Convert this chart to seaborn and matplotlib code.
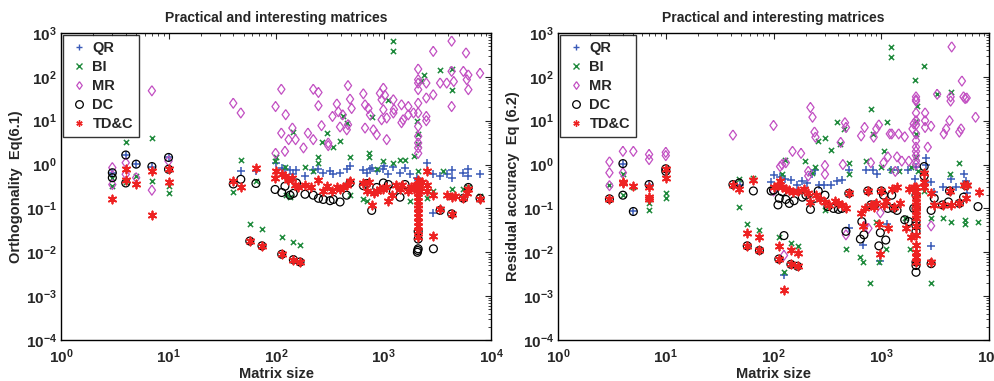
import matplotlib
matplotlib.use('Agg')
import matplotlib.pyplot as plt
import seaborn as sns
import pandas as pd
from matplotlib.lines import Line2D
from matplotlib.ticker import LogLocator, NullFormatter

# ---- left panel: orthogonality Eq(6.1) ----
qr_n_1 = [3, 4, 5, 7, 10, 47, 65, 100, 113, 121, 135, 145, 155, 186, 222, 248, 275, 318, 341, 394,
          454, 488, 649, 697, 750, 776, 864, 996, 1000, 1109, 1234, 1423, 1585, 1765, 2065, 2100,
          2523, 2911, 2911, 3357, 3872, 4305, 4305, 5530, 6150, 6150, 7900]
qr_v_1 = [0.65, 1.65, 1.02, 0.9, 1.45, 0.72, 0.70, 1.1, 0.85, 0.8, 0.75, 0.6, 0.75, 0.55, 0.75, 0.8, 0.65,
          0.7, 0.6, 0.65, 0.8, 0.95, 0.75, 0.65, 0.8, 0.85, 0.7, 0.8, 0.95, 0.6, 0.9, 0.65, 0.85, 0.6,
          0.5, 0.45, 1.1, 0.6, 0.08, 0.55, 0.6, 0.75, 0.5, 0.65, 0.55, 0.8, 0.6]

bi_n_1 = [3, 3, 4, 4, 5, 7, 7, 10, 10, 40, 47, 65, 57, 74, 113, 145, 167, 98, 100, 121, 125, 135, 145,
          186, 222, 248, 248, 265, 300, 341, 394, 420, 454, 488, 488, 649, 697, 740, 740, 776, 864,
          996, 1109, 1234, 1234, 1234, 1423, 1585, 1765, 1900, 2065, 2100, 2100, 2100, 2250, 2400,
          2523, 2911, 3357, 3600, 4305, 4305, 4305, 5530, 6150, 7900]
bi_v_1 = [0.5, 0.33, 3.3, 0.4, 0.55, 4.0, 0.43, 0.32, 0.23, 0.24, 1.3, 0.42, 0.044, 0.034, 0.022,
          0.017, 0.015, 1.2, 1.5, 0.9, 0.2, 0.18, 5.5, 0.9, 0.7, 1.5, 1.1, 3.2, 5.2, 2.5, 3.5, 13, 9,
          1.5, 0.2, 0.16, 0.15, 1.8, 1.5, 12, 0.8, 1.2, 30, 650, 380, 1.1, 1.3, 1.3, 0.15, 1.6, 10,
          5, 3, 0.7, 80, 110, 0.17, 0.25, 140, 0.7, 150, 50, 0.28, 0.28, 0.3, 0.19]

mr_n_1 = [3, 3, 4, 4, 5, 7, 7, 10, 40, 47, 99, 112, 99, 112, 123, 121, 131, 142, 152, 180, 198, 222,
          248, 222, 248, 265, 306, 306, 335, 368, 380, 394, 417, 467, 488, 505, 455, 467, 649, 673,
          723, 748, 673, 805, 864, 926, 960, 996, 1030, 996, 960, 1070, 1070, 1234, 1250, 1234, 1470,
          1470, 1520, 1700, 1700, 1900, 2100, 2100, 2100, 2100, 2100, 2100, 2100, 2100, 2100, 2100,
          2100, 2500, 2500, 2500, 2500, 2900, 2900, 3360, 3870, 4300, 4300, 4300, 4500, 5530, 5850,
          5950, 6150, 6150, 7900]
mr_v_1 = [0.85, 0.35, 1.1, 0.6, 0.5, 48, 0.26, 1.2, 25, 15, 1.8, 52, 21, 5.2, 13.7, 2.0, 3.7, 6.8, 3.7,
          2.4, 5.2, 52, 44, 3.7, 22, 7.7, 3.1, 2.7, 12.5, 24, 16, 7.2, 13.6, 63, 31, 19, 6.2, 8.1, 41,
          23, 19, 13.6, 6.8, 6.2, 4.8, 42, 30, 55, 38, 17.8, 10.5, 11.5, 3.7, 30, 18, 15, 23, 9, 10.5,
          21, 13.6, 15, 150, 86, 72, 51, 25, 15, 7.4, 4.4, 3.1, 2.4, 1.8, 72, 33, 12.5, 10, 380, 39,
          72, 72, 650, 133, 21, 78, 133, 350, 86, 51, 110, 120]

dc_n_1 = [3, 3, 4, 4, 5, 7, 10, 10, 40, 47, 65, 57, 74, 113, 145, 167, 98, 113, 121, 135, 145, 155,
          186, 222, 248, 275, 318, 341, 394, 454, 488, 649, 697, 776, 864, 996, 1109, 1234, 1423,
          1585, 2065, 2080, 2100, 2100, 2100, 2100, 2911, 3357, 4305, 5530, 6150, 7900]
dc_v_1 = [0.65, 0.5, 1.65, 0.38, 1.02, 0.9, 1.45, 0.78, 0.36, 0.46, 0.37, 0.018, 0.014, 0.009, 0.0068,
          0.006, 0.27, 0.23, 0.32, 0.2, 0.22, 0.38, 0.21, 0.2, 0.17, 0.16, 0.15, 0.16, 0.14, 0.2,
          0.38, 0.33, 0.37, 0.09, 0.3, 0.38, 0.35, 0.25, 0.18, 0.35, 0.01, 0.011, 0.012, 0.02, 0.03,
          0.3, 0.012, 0.09, 0.075, 0.17, 0.3, 0.17]

td_n_1 = [3, 4, 4, 5, 7, 7, 10, 10, 40, 47, 65, 57, 74, 113, 145, 167, 98, 100, 113, 121, 130, 140,
          150, 160, 186, 210, 248, 275, 300, 330, 370, 394, 420, 454, 488, 650, 700, 730, 776, 820,
          864, 930, 996, 1050, 1109, 1200, 1300, 1423, 1500, 1700, 1800, 1900, 2000, 2100, 2100,
          2100, 2100, 2100, 2100, 2100, 2100, 2100, 2100, 2100, 2100, 2100, 2100, 2150, 2200, 2300,
          2523, 2523, 2523, 2911, 2911, 3357, 3872, 4305, 4305, 4600, 5530, 6000, 6150, 7900]
td_v_1 = [0.16, 0.8, 0.44, 0.36, 0.72, 0.07, 0.78, 0.4, 0.42, 0.3, 0.85, 0.018, 0.014, 0.009, 0.0068,
          0.006, 0.5, 0.7, 0.6, 0.55, 0.45, 0.5, 0.35, 0.3, 0.35, 0.3, 0.45, 0.25, 0.32, 0.25, 0.3,
          0.28, 0.3, 0.35, 0.42, 0.38, 0.25, 0.4, 0.12, 0.22, 0.25, 0.28, 0.27, 0.3, 0.15, 0.2, 0.35,
          0.28, 0.35, 0.25, 0.3, 0.28, 0.35, 0.45, 0.35, 0.28, 0.22, 0.18, 0.15, 0.12, 0.1, 0.08,
          0.065, 0.05, 0.04, 0.03, 0.022, 0.3, 0.25, 0.4, 0.7, 0.35, 0.25, 0.024, 0.2, 0.095, 0.2,
          0.18, 0.075, 0.19, 0.17, 0.22, 0.27, 0.16]

# ---- right panel: residual accuracy Eq (6.2) ----
qr_n_2 = [4, 5, 7, 10, 49, 94, 100, 116, 129, 144, 166, 184, 205, 228, 245, 262, 293, 340, 390, 433,
          500, 125, 500, 670, 720, 830, 920, 980, 1140, 1230, 1420, 1760, 2050, 2100, 2600, 2600, 2900,
          2900, 3100, 3700, 4400, 4900, 5900, 6100, 6300]
qr_v_2 = [1.05, 0.085, 0.35, 0.7, 0.35, 0.39, 0.58, 0.53, 0.46, 0.45, 0.35, 0.42, 0.37, 0.6, 0.75,
          0.35, 0.35, 0.35, 0.42, 0.45, 0.75, 0.003, 0.035, 0.015, 0.75, 0.75, 0.62, 0.0063, 0.045,
          0.75, 0.75, 0.75, 0.46, 0.9, 1.4, 1.0, 0.39, 0.014, 0.24, 0.3, 0.46, 0.3, 0.62, 0.42, 0.22]

bi_n_2 = [3, 4, 4, 5, 7, 7, 10, 10, 48, 48, 57, 65, 74, 113, 120, 125, 128, 145, 167, 195, 226, 245,
          260, 300, 300, 340, 390, 410, 450, 470, 500, 500, 640, 670, 720, 780, 800, 830, 900, 960,
          1000, 1050, 1100, 1120, 1230, 1230, 1230, 1450, 1650, 1850, 1900, 2050, 2100, 2100, 2100,
          2150, 2200, 2500, 2500, 2900, 2900, 3300, 3700, 4400, 4400, 4300, 5300, 6000, 6000, 7900]
bi_v_2 = [0.34, 0.62, 0.2, 0.3, 0.13, 0.09, 0.22, 0.17, 0.48, 0.11, 0.043, 0.5, 0.033, 0.022, 0.6,
          0.0035, 1.3, 0.016, 0.014, 1.2, 0.65, 0.9, 3.5, 4.0, 0.09, 2.2, 9.5, 3.0, 6.5, 0.012, 1.1,
          0.6, 0.008, 0.006, 1.2, 0.002, 18, 5, 0.05, 0.006, 0.9, 2.0, 0.012, 9.5, 480, 280, 0.75,
          0.7, 0.06, 0.012, 0.9, 85, 10, 5, 1.5, 22, 0.7, 180, 0.25, 0.06, 0.002, 40, 0.06, 45, 0.05,
          0.6, 1.1, 0.055, 0.045, 0.05]

mr_n_2 = [3, 3, 3, 4, 4, 5, 7, 7, 10, 10, 42, 100, 100, 115, 120, 130, 150, 180, 125, 210, 210, 220,
          230, 240, 245, 300, 300, 420, 440, 460, 470, 470, 650, 700, 700, 760, 800, 850, 900, 950,
          980, 1050, 1150, 1200, 1250, 1350, 1400, 1450, 1550, 1650, 1800, 1950, 2000, 2100, 2100,
          2100, 2100, 2100, 2100, 2100, 2100, 2100, 2100, 2100, 2100, 2100, 2550, 2550, 2550, 2700,
          2900, 2900, 3300, 3800, 4000, 4300, 4400, 4400, 4500, 5300, 5500, 5600, 5800, 6000, 6200,
          7500]
mr_v_2 = [1.15, 0.65, 0.33, 2.0, 0.65, 2.0, 1.7, 1.3, 1.9, 1.6, 4.7, 7.8, 0.25, 0.9, 1.0, 1.1, 2.0,
          1.8, 0.0085, 0.7, 0.55, 20, 12, 5.5, 4.2, 0.95, 0.6, 3.2, 1.0, 9, 7, 0.025, 4.5, 7, 0.04,
          0.035, 1.1, 4.2, 6.5, 8, 0.08, 1.1, 1.5, 5, 5, 0.7, 1.5, 5, 1.2, 4.3, 1.2, 6.5, 8.5, 35, 30,
          28, 15, 10, 8, 5, 3.5, 2.5, 2, 1.6, 1.2, 1.0, 10, 7, 15, 2.5, 0.04, 7.5, 40, 5, 6.5, 10, 35,
          28, 480, 5.5, 6.5, 80, 35, 32, 33, 12]

dc_n_2 = [3, 4, 4, 5, 7, 10, 10, 42, 48, 65, 57, 74, 112, 145, 167, 95, 100, 110, 113, 120, 125, 130,
          140, 155, 185, 200, 220, 240, 260, 300, 320, 360, 400, 430, 470, 500, 640, 660, 690, 750,
          800, 870, 950, 980, 1000, 1050, 1100, 1150, 1250, 1300, 1400, 1650, 1800, 2000, 2100, 2100,
          2100, 2100, 2100, 2100, 2100, 2100, 2500, 2500, 2900, 2900, 3100, 3700, 4200, 4300, 5300,
          5800, 6100, 7900]
dc_v_2 = [0.165, 1.05, 0.2, 0.085, 0.35, 0.7, 0.8, 0.35, 0.38, 0.25, 0.014, 0.011, 0.007, 0.0053,
          0.0048, 0.25, 0.26, 0.12, 0.17, 0.24, 0.024, 0.16, 0.13, 0.15, 0.18, 0.2, 0.095, 0.17, 0.25,
          0.2, 0.11, 0.1, 0.095, 0.1, 0.03, 0.22, 0.02, 0.05, 0.025, 0.25, 0.12, 0.12, 0.014, 0.028,
          0.25, 0.2, 0.019, 0.1, 0.2, 0.1, 0.09, 0.055, 0.05, 0.1, 0.0035, 0.005, 0.006, 0.03, 0.04,
          0.05, 0.1, 0.2, 0.55, 0.9, 0.0055, 0.09, 0.17, 0.12, 0.14, 0.25, 0.13, 0.18, 0.33, 0.11]

td_n_2 = [3, 4, 4, 5, 7, 7, 7, 10, 10, 42, 48, 65, 57, 57, 74, 74, 112, 112, 125, 145, 145, 167, 167,
          100, 110, 115, 120, 130, 140, 150, 170, 190, 210, 220, 250, 270, 300, 330, 370, 400, 430,
          470, 500, 650, 680, 700, 750, 800, 850, 900, 950, 970, 1000, 1050, 1100, 1150, 1250, 1300,
          1400, 1500, 1700, 1800, 1900, 2000, 2100, 2100, 2100, 2100, 2100, 2100, 2100, 2100, 2100,
          2100, 2100, 2100, 2100, 2100, 2100, 2100, 2500, 2500, 2500, 2900, 2900, 3100, 3700, 4300,
          4400, 5300, 5800, 6100, 6300, 8000]
td_v_2 = [0.165, 0.4, 0.38, 0.33, 0.3, 0.18, 0.16, 0.8, 0.5, 0.35, 0.28, 0.44, 0.014, 0.028, 0.011,
          0.022, 0.007, 0.014, 0.0014, 0.0053, 0.011, 0.0048, 0.0095, 0.3, 0.35, 0.42, 0.3, 0.28,
          0.26, 0.24, 0.25, 0.28, 0.22, 0.14, 0.2, 0.16, 0.14, 0.12, 0.15, 0.13, 0.12, 0.1, 0.22,
          0.08, 0.04, 0.1, 0.25, 0.12, 0.11, 0.13, 0.045, 0.009, 0.25, 0.12, 0.15, 0.035, 0.28, 0.11,
          0.3, 0.13, 0.035, 0.28, 0.022, 0.3, 0.3, 0.25, 0.2, 0.17, 0.14, 0.12, 0.1, 0.085, 0.07,
          0.06, 0.04, 0.025, 0.015, 0.01, 0.008, 0.006, 0.65, 0.4, 0.3, 0.006, 0.22, 0.12, 0.12,
          0.25, 0.12, 0.13, 0.35, 0.17, 0.35, 0.24]

methods = ['QR', 'BI', 'MR', 'DC', 'TD&C']
colors = {'QR': '#3a5bb8', 'BI': '#1f8a3c', 'MR': '#c24fc2', 'DC': 'black', 'TD&C': '#ee2222'}
asterisk = (6, 2, 0)
diamond = [(0, 1), (0.72, 0), (0, -1), (-0.72, 0), (0, 1)]
markers = {'QR': '+', 'BI': 'x', 'MR': diamond, 'DC': 'o', 'TD&C': asterisk}
sizes = {'QR': 34, 'BI': 14, 'MR': 52, 'DC': 32, 'TD&C': 34}


def make_df(lists):
    rows = []
    for m, (ns, vs) in zip(methods, lists):
        for n, v in zip(ns, vs):
            rows.append({'n': n, 'val': v, 'method': m})
    return pd.DataFrame(rows)


df1 = make_df([(qr_n_1, qr_v_1), (bi_n_1, bi_v_1), (mr_n_1, mr_v_1), (dc_n_1, dc_v_1), (td_n_1, td_v_1)])
df2 = make_df([(qr_n_2, qr_v_2), (bi_n_2, bi_v_2), (mr_n_2, mr_v_2), (dc_n_2, dc_v_2), (td_n_2, td_v_2)])

sns.set_style('white')
plt.rcParams['font.family'] = ['Liberation Sans', 'DejaVu Sans']
plt.rcParams['font.weight'] = 'bold'
plt.rcParams['mathtext.fontset'] = 'custom'
plt.rcParams['mathtext.rm'] = 'Liberation Sans:bold'
plt.rcParams['mathtext.bf'] = 'Liberation Sans:bold'
plt.rcParams['mathtext.default'] = 'bf'

fig = plt.figure(figsize=(9.94, 3.81), dpi=100)
ax1 = fig.add_axes([0.0614, 0.1076, 0.4326, 0.806])
ax2 = fig.add_axes([0.5614, 0.1076, 0.4336, 0.806])


def draw(ax, df, ylabel):
    for m in methods:
        d = df[df['method'] == m]
        if m in ('MR', 'DC'):
            sns.scatterplot(data=d, x='n', y='val', marker=markers[m], s=sizes[m], ax=ax,
                            facecolors='none', edgecolor=colors[m], linewidth=0.9, legend=False)
        else:
            sns.scatterplot(data=d, x='n', y='val', marker=markers[m], s=sizes[m], ax=ax,
                            color=colors[m], linewidth=1.3 if m == 'TD&C' else 1.1, legend=False)
    ax.set_xscale('log')
    ax.set_yscale('log')
    ax.set_xlim(1, 1e4)
    ax.set_ylim(1e-4, 1e3)
    ax.xaxis.set_major_locator(LogLocator(base=10, numticks=10))
    ax.yaxis.set_major_locator(LogLocator(base=10, numticks=10))
    ax.xaxis.set_minor_locator(LogLocator(base=10, subs=range(2, 10), numticks=20))
    ax.yaxis.set_minor_locator(LogLocator(base=10, subs=range(2, 10), numticks=20))
    ax.xaxis.set_minor_formatter(NullFormatter())
    ax.yaxis.set_minor_formatter(NullFormatter())
    ax.tick_params(which='both', direction='in', top=True, right=True, labelsize=11)
    ax.tick_params(axis='x', pad=5)
    ax.tick_params(axis='y', pad=3)
    ax.tick_params(which='major', length=4, width=0.8)
    ax.tick_params(which='minor', length=2, width=0.6)
    for sp in ax.spines.values():
        sp.set_color('black')
        sp.set_linewidth(1.0)
    ax.set_title('Practical and interesting matrices', fontsize=10, fontweight='bold', pad=8)
    ax.set_xlabel('Matrix size', fontsize=10.5, fontweight='bold', labelpad=1)
    ax.set_ylabel(ylabel, fontsize=10.5, fontweight='bold', labelpad=2)

    handles = []
    for m in methods:
        if m in ('MR', 'DC'):
            h = Line2D([], [], linestyle='none', marker=markers[m], markersize=5.5,
                       markerfacecolor='none', markeredgecolor=colors[m], markeredgewidth=0.9)
        else:
            h = Line2D([], [], linestyle='none', marker=markers[m], markersize=4.5,
                       color=colors[m], markeredgewidth=1.0)
        handles.append(h)
    leg = ax.legend(handles, methods, loc='upper left', frameon=True, fancybox=False,
                    borderaxespad=0.15, handletextpad=0.2, labelspacing=0.35, borderpad=0.4,
                    handlelength=1.4, prop={'weight': 'bold', 'size': 10.5})
    leg.get_frame().set_edgecolor('black')
    leg.get_frame().set_linewidth(1.0)


draw(ax1, df1, 'Orthogonality  Eq(6.1)')
draw(ax2, df2, 'Residual accuracy  Eq (6.2)')

plt.savefig('out.png', dpi=100)
